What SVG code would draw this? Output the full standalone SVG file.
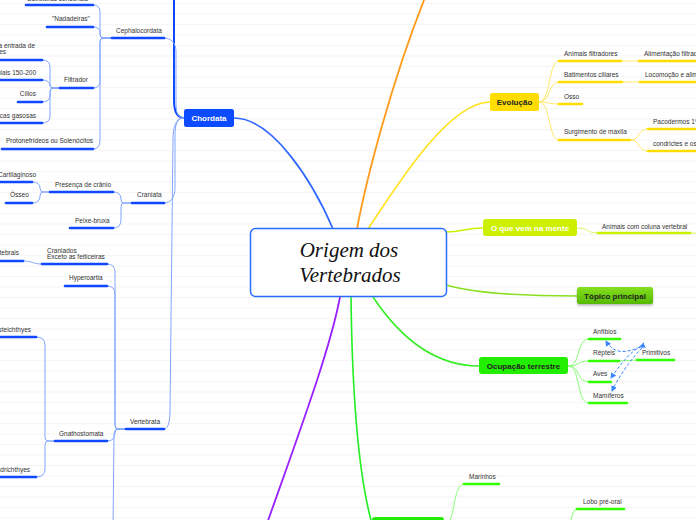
<svg xmlns="http://www.w3.org/2000/svg" width="696" height="520" viewBox="0 0 696 520">
<style>
.t{font-family:"Liberation Sans",Arial,sans-serif;font-size:6.5px;fill:#333}
.e{text-anchor:end}
.ub{stroke:#0f48ff;stroke-width:2.6;stroke-linecap:round;fill:none}
.uy{stroke:#ffdd00;stroke-width:2.6;stroke-linecap:round;fill:none}
.ul{stroke:#ccf000;stroke-width:2.6;stroke-linecap:round;fill:none}
.ug{stroke:#33ff00;stroke-width:2.6;stroke-linecap:round;fill:none}
.cb{stroke:#82a6ff;stroke-width:1;fill:none}
.cy{stroke:#ffe866;stroke-width:1;fill:none}
.cl{stroke:#dcf560;stroke-width:1;fill:none}
.cg{stroke:#88ff77;stroke-width:1;fill:none}
.nt{font-family:"Liberation Sans",Arial,sans-serif;font-size:8px;font-weight:bold;text-anchor:middle}
.rel{stroke:#3a86ff;stroke-width:1;stroke-dasharray:3,2;fill:none}
</style>
<defs>
<pattern id="bg" width="696" height="10.5" patternUnits="userSpaceOnUse">
<rect width="696" height="10.5" fill="#ffffff"/>
<rect y="3" width="696" height="1" fill="#f4f4f4"/>
</pattern>
<linearGradient id="gt" x1="0" y1="0" x2="0" y2="1">
<stop offset="0" stop-color="#86e022"/>
<stop offset="1" stop-color="#55b800"/>
</linearGradient>
<filter id="sh" x="-20%" y="-30%" width="140%" height="180%">
<feDropShadow dx="0" dy="1.5" stdDeviation="1" flood-color="#000" flood-opacity="0.3"/>
</filter>
<marker id="ar" markerWidth="6" markerHeight="6" refX="5" refY="3" orient="auto" markerUnits="userSpaceOnUse">
<path d="M0,0 L6,3 L0,6 Z" fill="#3a86ff"/>
</marker>
</defs>
<rect width="696" height="520" fill="url(#bg)"/>

<g id="connectors">
<!-- main branches -->
<path d="M333,229 C312,180 272,118 234,118" stroke="#2f66ff" stroke-width="1.6" fill="none"/>
<path d="M357,229 C366,180 392,80 426,-5" stroke="#ff9a1a" stroke-width="1.8" fill="none"/>
<path d="M368,229 C400,180 450,102 490,102" stroke="#ffe21a" stroke-width="1.6" fill="none"/>
<path d="M446,232 C462,232 466,228 483,228" stroke="#ccf000" stroke-width="1.6" fill="none"/>
<path d="M446,285 C480,295 540,296 577,296" stroke="#88e020" stroke-width="1.6" fill="none"/>
<path d="M373,297 C405,345 440,366 479,366" stroke="#33ee22" stroke-width="1.6" fill="none"/>
<path d="M351,297 C352,380 357,470 372,524" stroke="#22ee22" stroke-width="1.6" fill="none"/>
<path d="M340,297 C330,350 300,430 264,532" stroke="#9b20ff" stroke-width="1.8" fill="none"/>

<!-- Chordata children -->
<path d="M184,118 C177,118 174,112 174,100 L174,-5" stroke="#0f48ff" stroke-width="2" fill="none"/>
<path class="cb" d="M184,118 C177,118 176,112 176,100 L176,52 C176,42 170,38 164,38"/>
<path class="cb" d="M184,118 C177,118 175,124 175,136 L175,188 C175,198 170,203 164,203"/>
<path class="cb" d="M184,118 C176,118 173,126 173,140 L170,410 C170,422 168,429 164,429"/>

<!-- Cephalocordata bracket -->
<path class="cb" d="M112,38 L103,38 Q100,38 100,34 L100,12 Q100,5 93,5"/>
<path class="cb" d="M112,38 L103,38 Q100,38 100,34 L100,33 Q100,27 93,27"/>
<path class="cb" d="M112,38 L103,38 Q100,38 100,42 L100,81 Q100,88 93,88"/>
<path class="cb" d="M112,38 L103,38 Q100,38 100,42 L100,140 Q100,149 93,149"/>
<!-- Filtrador bracket -->
<path class="cb" d="M60,88 L53,88 Q50,88 50,84 L50,67 Q50,60 42,60"/>
<path class="cb" d="M60,88 L53,88 Q50,88 50,85 L50,86 Q50,80 42,80"/>
<path class="cb" d="M60,88 L53,88 Q50,88 50,92 L50,95 Q50,102 42,102"/>
<path class="cb" d="M60,88 L53,88 Q50,88 50,92 L50,116 Q50,123 42,123"/>
<!-- Craniata bracket -->
<path class="cb" d="M132,203 L124,203 Q121,203 121,200 L121,199 Q121,192 113,192"/>
<path class="cb" d="M132,203 L124,203 Q121,203 121,207 L121,220 Q121,228 113,228"/>
<!-- Presença bracket -->
<path class="cb" d="M50,192 L43,192 Q40,192 40,188 Q40,182 32,182"/>
<path class="cb" d="M50,192 L43,192 Q40,192 40,196 Q40,203 32,203"/>
<!-- Vertebrata bracket -->
<path class="cb" d="M126,429 L118,429 Q115,429 115,425 L115,272 Q115,264 107,264"/>
<path class="cb" d="M126,429 L118,429 Q115,429 115,425 L115,294 Q115,286 107,286"/>
<path class="cb" d="M126,429 L118,429 Q115,429 115,433 Q115,441 107,441"/>
<path class="cb" d="M126,429 L118,429 Q114,429 114,435 L113,530"/>
<path class="cb" d="M42,264 C32,264 33,261 23,261"/>
<!-- Gnathostomata bracket -->
<path class="cb" d="M55,441 L48,441 Q45,441 45,437 L45,345 Q45,337 36,337"/>
<path class="cb" d="M55,441 L48,441 Q45,441 45,445 L45,469 Q45,477 36,477"/>

<!-- Evolucao -->
<path class="cy" d="M539,102 C551,102 548,61 559,61"/>
<path class="cy" d="M539,102 C551,102 548,82 559,82"/>
<path class="cy" d="M539,102 C551,102 548,104 559,104"/>
<path class="cy" d="M539,102 C551,102 548,140 559,140"/>
<path class="cy" d="M621,61 C630,61 630,61 639,61"/>
<path class="cy" d="M622,82 C631,82 631,82 640,82"/>
<path class="cy" d="M630,140 C641,140 637,129 648,129"/>
<path class="cy" d="M630,140 C641,140 637,151 648,151"/>
<!-- O que vem -->
<path class="cl" d="M577,228 C590,228 586,233 598,233"/>
<path class="cl" d="M690,233 L697,233"/>
<!-- Ocupacao -->
<path class="cg" d="M568,366 C581,366 576,339 589,339"/>
<path class="cg" d="M568,366 C581,366 576,361 589,361"/>
<path class="cg" d="M568,366 C581,366 576,382 589,382"/>
<path class="cg" d="M568,366 C581,366 576,403 589,403"/>
<path class="cg" d="M619,361 L637,360"/>
<!-- bottom green -->
<path class="cg" d="M444,526 C456,526 452,484 464,484"/>
<path class="cg" d="M565,532 C572,532 570,509 577,509"/>
<!-- relationships -->
<path class="rel" marker-end="url(#ar)" marker-start="url(#ar)" d="M640,347 C628,352 615,356 606,341"/>
<path class="rel" marker-end="url(#ar)" d="M641,346 C630,352 620,365 611,378"/>
<path class="rel" marker-end="url(#ar)" d="M642,348 C630,360 618,378 612,391"/>
</g>

<g id="center">
<rect x="250.5" y="228.5" width="196" height="68" rx="5" fill="#fff" stroke="#2a6cff" stroke-width="1.5"/>
<text x="349" y="257" font-family="'Liberation Serif',serif" font-style="italic" font-size="21" text-anchor="middle" fill="#111">Origem dos</text>
<text x="350" y="282" font-family="'Liberation Serif',serif" font-style="italic" font-size="21" text-anchor="middle" fill="#111">Vertebrados</text>
</g>

<g id="chordata">
<rect x="184" y="109" width="50" height="18" rx="2.5" fill="#0c4bff"/>
<text class="nt" x="209" y="121" fill="#fff">Chordata</text>
</g>

<g id="cephalocordata"><path class="ub" d="M112,38 L164,38"/><text class="t" x="116" y="33">Cephalocordata</text></g>
<g id="estruturas"><path class="ub" d="M26,5 L93,5"/><text class="t e" x="88" y="0.5">Estruturas sensoriais</text></g>
<g id="nadadeiras"><path class="ub" d="M47,27 L93,27"/><text class="t" x="52" y="21">"Nadadeiras"</text></g>
<g id="filtrador"><path class="ub" d="M60,88 L93,88"/><text class="t" x="64" y="82">Filtrador</text></g>
<g id="fendas"><path class="ub" d="M-2,60 L42,60"/><text class="t e" x="35" y="48">Fendas para a entrada de</text><text class="t e" x="6" y="54">nutrientes</text></g>
<g id="branquiais"><path class="ub" d="M-2,80 L42,80"/><text class="t e" x="36" y="75">Fendas branquiais 150-200</text></g>
<g id="cilios"><path class="ub" d="M18,102 L42,102"/><text class="t e" x="36" y="96">Cílios</text></g>
<g id="trocas"><path class="ub" d="M-2,123 L42,123"/><text class="t e" x="36" y="118">Trocas gasosas</text></g>
<g id="protonefrideos"><path class="ub" d="M2,149 L93,149"/><text class="t" x="6" y="143">Protonefrídeos ou Solenócitos</text></g>

<g id="craniata"><path class="ub" d="M132,203 L164,203"/><text class="t" x="137" y="197">Craniata</text></g>
<g id="presenca"><path class="ub" d="M50,192 L113,192"/><text class="t" x="55" y="187">Presença de crânio</text></g>
<g id="cartilaginoso"><path class="ub" d="M-2,182 L32,182"/><text class="t e" x="36" y="177">Cartilaginoso</text></g>
<g id="osseo"><path class="ub" d="M6,203 L32,203"/><text class="t" x="10" y="197">Ósseo</text></g>
<g id="peixebruxa"><path class="ub" d="M70,228 L113,228"/><text class="t" x="75" y="223">Peixe-bruxa</text></g>

<g id="vertebrata"><path class="ub" d="M126,429 L164,429"/><text class="t" x="130" y="424">Vertebrata</text></g>
<g id="craniados"><path class="ub" d="M42,264 L107,264"/><text class="t" x="47" y="253">Craniados</text><text class="t" x="47" y="259">Exceto as feiticeiras</text></g>
<g id="vertebrais"><path class="ub" d="M-2,261 L23,261"/><text class="t e" x="19" y="255">Vertebrais</text></g>
<g id="hyperoartia"><path class="ub" d="M65,286 L107,286"/><text class="t" x="69" y="280">Hyperoartia</text></g>
<g id="gnathostomata"><path class="ub" d="M55,441 L107,441"/><text class="t" x="59" y="436">Gnathostomata</text></g>
<g id="osteichthyes"><path class="ub" d="M-2,337 L36,337"/><text class="t e" x="31" y="332">Osteichthyes</text></g>
<g id="chondrichthyes"><path class="ub" d="M-2,477 L36,477"/><text class="t e" x="30" y="472">Chondrichthyes</text></g>

<g id="evolucao">
<rect x="490" y="93" width="49" height="18" rx="2.5" fill="#ffdd00"/>
<text class="nt" x="514.5" y="105" fill="#222">Evolução</text>
</g>
<g id="filtradores"><path class="uy" d="M559,61 L621,61"/><text class="t" x="564" y="56">Animais filtradores</text></g>
<g id="alimentacao"><path class="uy" d="M639,61 L700,61"/><text class="t" x="644" y="56">Alimentação filtradora</text></g>
<g id="batimentos"><path class="uy" d="M559,82 L622,82"/><text class="t" x="564" y="77">Batimentos ciliares</text></g>
<g id="locomocao"><path class="uy" d="M640,82 L700,82"/><text class="t" x="645" y="77">Locomoção e alimentação</text></g>
<g id="osso"><path class="uy" d="M559,104 L582,104"/><text class="t" x="564" y="99">Osso</text></g>
<g id="maxila"><path class="uy" d="M559,140 L630,140"/><text class="t" x="564" y="134">Surgimento de maxila</text></g>
<g id="placodermos"><path class="uy" d="M648,129 L700,129"/><text class="t" x="653" y="124">Pacodermos 1º com maxila</text></g>
<g id="condrictes"><path class="uy" d="M648,151 L700,151"/><text class="t" x="653" y="146">condrictes e osteíctes</text></g>

<g id="oquevem">
<rect x="483" y="219" width="94" height="17" rx="3" fill="#ccf000"/>
<text class="nt" x="530" y="231" fill="#fff" font-size="8.5">O que vem na mente</text>
</g>
<g id="animaiscoluna"><path class="ul" d="M598,233 L690,233"/><text class="t" x="602" y="229">Animais com coluna vertebral</text></g>

<g id="topico">
<rect x="577" y="287" width="76" height="17" rx="2.5" fill="url(#gt)" filter="url(#sh)"/>
<text class="nt" x="615" y="299" fill="#222">Tópico principal</text>
</g>

<g id="ocupacao">
<rect x="479" y="357" width="89" height="17" rx="3" fill="#22ee00"/>
<text class="nt" x="523.5" y="369" fill="#222">Ocupação terrestre</text>
</g>
<g id="anfibios"><path class="ug" d="M589,339 L620,339"/><text class="t" x="593" y="334">Anfíbios</text></g>
<g id="repteis"><path class="ug" d="M589,361 L619,361"/><text class="t" x="593" y="355">Répteis</text></g>
<g id="primitivos"><path class="ug" d="M637,360 L674,360"/><text class="t" x="642" y="355">Primitivos</text></g>
<g id="aves"><path class="ug" d="M589,382 L611,382"/><text class="t" x="593" y="376">Aves</text></g>
<g id="mamiferos"><path class="ug" d="M589,403 L627,403"/><text class="t" x="593" y="398">Mamíferos</text></g>

<g id="bottomnode">
<rect x="372" y="517" width="72" height="17" rx="3" fill="#22ee00"/>
</g>
<g id="marinhos"><path class="ug" d="M464,484 L499,484"/><text class="t" x="469" y="479">Marinhos</text></g>
<g id="lobo"><path class="ug" d="M577,509 L624,509"/><text class="t" x="583" y="504">Lobo pré-oral</text></g>
</svg>
